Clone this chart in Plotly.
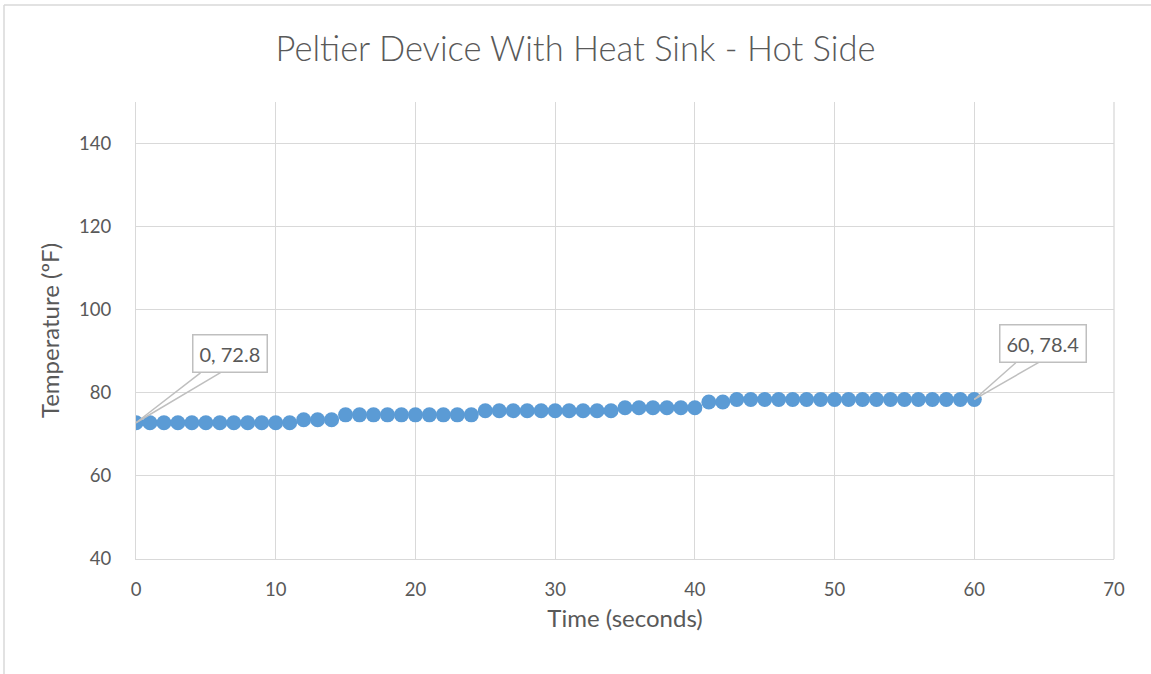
import plotly.graph_objects as go

time_s = list(range(0, 61))
temp_f = ([72.8] * 12 + [73.5] * 3 + [74.7] * 10 + [75.7] * 10 +
          [76.4] * 6 + [77.8] * 2 + [78.4] * 18)

x_ticks = [0, 10, 20, 30, 40, 50, 60, 70]
y_ticks = [40, 60, 80, 100, 120, 140]

title_text = "Peltier Device With Heat Sink - Hot Side"
x_title = "Time (seconds)"
y_title = "Temperature (ºF)"

FONT = "Lato"
TXT = "#595959"
GRID = "#d9d9d9"

fig = go.Figure()
fig.add_trace(go.Scatter(
    x=time_s, y=temp_f, mode="markers",
    marker=dict(size=15, color="#5b9bd5"),
    hoverinfo="x+y", showlegend=False,
))

# callout labels for first and last points
def callout(i, ax, ay, base_dx):
    xv, yv = time_s[i], temp_f[i]
    anns = []
    for dx in base_dx:
        anns.append(dict(x=xv, y=yv, xref="x", yref="y", text="",
                         showarrow=True, arrowhead=0, arrowwidth=1.5,
                         arrowcolor="#bfbfbf", ax=dx, ay=ay + 18,
                         axref="pixel", ayref="pixel"))
    anns.append(dict(x=xv, y=yv, xref="x", yref="y",
                     text=f"{xv}, {yv}", showarrow=False,
                     xshift=ax, yshift=-ay,
                     font=dict(family=FONT, size=20, color=TXT, weight=400),
                     bgcolor="white", bordercolor="#bfbfbf", borderwidth=1.5,
                     borderpad=6))
    return anns

annotations = []
annotations += callout(0, 94, -69, [66, 86])
annotations += callout(60, 69, -56, [43, 66])

L, R, T, B = 136, 37, 102, 115
PW, PH = 1151 - L - R, 674 - T - B

fig.update_layout(
    width=1151, height=674,
    margin=dict(l=L, r=R, t=T, b=B),
    paper_bgcolor="white", plot_bgcolor="white",
    title=dict(text=title_text, x=0.5, xanchor="center", y=0.928, yanchor="middle",
               font=dict(family=FONT, size=34.5, color=TXT, weight=300)),
    font=dict(family=FONT, color=TXT),
    xaxis=dict(range=[0, 70], tickvals=x_ticks, showgrid=True, gridcolor=GRID,
               gridwidth=1.3, zeroline=False, showline=True, linecolor=GRID,
               linewidth=1.3,
               tickfont=dict(family=FONT, size=18.5, color=TXT, weight=400),
               ticklabelstandoff=14,
               title=dict(text=x_title, font=dict(family=FONT, size=24, color=TXT, weight=400),
                          standoff=10)),
    yaxis=dict(range=[40, 150], tickvals=y_ticks, showgrid=True, gridcolor=GRID,
               gridwidth=1.3, zeroline=False, showline=True, linecolor=GRID,
               linewidth=1.3,
               tickfont=dict(family=FONT, size=18.5, color=TXT, weight=400),
               ticklabelstandoff=20,
               title=dict(text=y_title, font=dict(family=FONT, size=24, color=TXT, weight=400),
                          standoff=12)),
    annotations=annotations,
    shapes=[
        dict(type="line", xref="paper", yref="paper",
             x0=(4 - L) / PW, x1=(4 - L) / PW, y0=-B / PH, y1=(674 - B - 5) / PH,
             line=dict(color=GRID, width=1.5)),
        dict(type="line", xref="paper", yref="paper",
             x0=(4 - L) / PW, x1=(1151 - L) / PW, y0=(674 - B - 5) / PH, y1=(674 - B - 5) / PH,
             line=dict(color=GRID, width=1.5)),
        dict(type="line", xref="paper", yref="paper", x0=1, x1=1, y0=0, y1=1,
             line=dict(color=GRID, width=1.3)),
    ],
)

fig.write_html("out.html", config={"displayModeBar": False},
               post_script="document.body.style.margin='0';document.body.style.padding='0';")
